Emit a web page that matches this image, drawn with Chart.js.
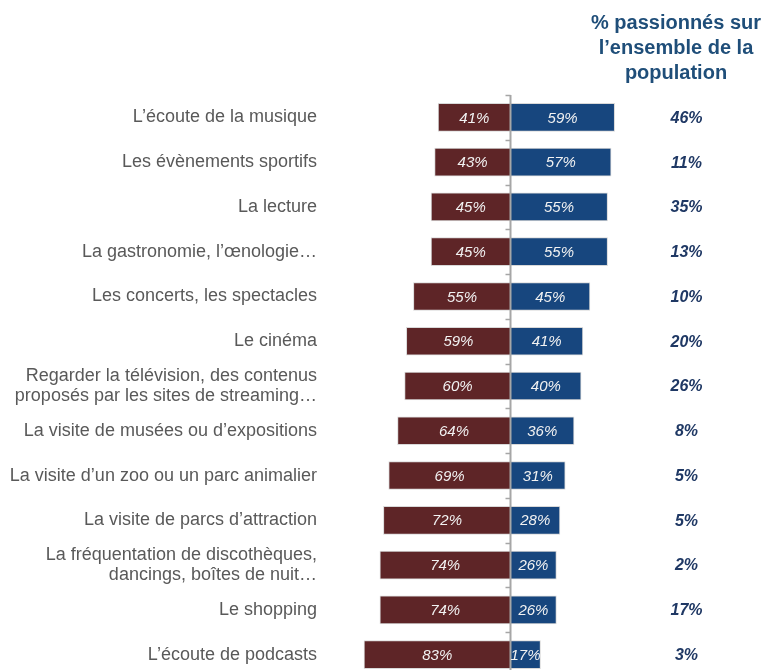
<!DOCTYPE html>
<html>
<head>
<meta charset="utf-8">
<script src="https://cdn.jsdelivr.net/npm/chart.js@4/dist/chart.umd.min.js"></script>
<style>
  html, body { margin: 0; padding: 0; background: #ffffff; overflow: hidden; }
  #wrap { position: relative; width: 763px; height: 677px; }
</style>
</head>
<body>
<div id="wrap"><canvas id="chart"></canvas></div>
<script>
// Activities (multi-line labels are arrays)
const categories = [
  "L’écoute de la musique",
  "Les évènements sportifs",
  "La lecture",
  "La gastronomie, l’œnologie…",
  "Les concerts, les spectacles",
  "Le cinéma",
  ["Regarder la télévision, des contenus", "proposés par les sites de streaming…"],
  "La visite de musées ou d’expositions",
  "La visite d’un zoo ou un parc animalier",
  "La visite de parcs d’attraction",
  ["La fréquentation de discothèques,", "dancings, boîtes de nuit…"],
  "Le shopping",
  "L’écoute de podcasts"
];
// Share of each side (left = maroon, right = blue), in %
const leftValues  = [41, 43, 45, 45, 55, 59, 60, 64, 69, 72, 74, 74, 83];
const rightValues = [59, 57, 55, 55, 45, 41, 40, 36, 31, 28, 26, 26, 17];
// % passionnés sur l'ensemble de la population
const populationValues = [46, 11, 35, 13, 10, 20, 26, 8, 5, 5, 2, 17, 3];
const headerLines = ["% passionnés sur", "l’ensemble de la", "population"];

const MAROON = "#5e2527";
const BLUE = "#17467e";
const AXIS = "#a6a6a6";

// Value labels inside bars, centre axis with ticks, right-hand column and header
const overlay = {
  id: "overlay",
  afterDatasetsDraw(chart) {
    const ctx = chart.ctx;
    const x = chart.scales.x;
    const y = chart.scales.y;
    const x0 = x.getPixelForValue(0);
    const band = y.getPixelForValue(1) - y.getPixelForValue(0);

    // centre axis
    ctx.save();
    ctx.strokeStyle = AXIS;
    ctx.lineWidth = 2;
    const top = y.getPixelForValue(0) - band / 2;
    ctx.beginPath();
    ctx.moveTo(x0, top);
    ctx.lineTo(x0, chart.height);
    ctx.stroke();
    ctx.lineWidth = 1.5;
    for (let i = 0; i < categories.length; i++) {
      const yb = Math.round(y.getPixelForValue(i) - band / 2) + 0.5;
      ctx.beginPath();
      ctx.moveTo(x0 - 5, yb);
      ctx.lineTo(x0, yb);
      ctx.stroke();
    }
    ctx.restore();

    // values inside the bars
    ctx.save();
    ctx.font = "italic 15px 'Liberation Sans', Arial, sans-serif";
    ctx.fillStyle = "#f2f2f2";
    ctx.textAlign = "center";
    ctx.textBaseline = "middle";
    chart.data.datasets.forEach((ds, di) => {
      const meta = chart.getDatasetMeta(di);
      const src = di === 0 ? leftValues : rightValues;
      meta.data.forEach((bar, i) => {
        const cx = (bar.x + bar.base) / 2;
        ctx.fillText(src[i] + "%", cx, bar.y + 1);
      });
    });
    ctx.restore();

    // right-hand column
    ctx.save();
    ctx.textAlign = "center";
    ctx.textBaseline = "middle";
    ctx.fillStyle = "#1f3864";
    ctx.font = "italic bold 16px 'Liberation Sans', Arial, sans-serif";
    populationValues.forEach((v, i) => {
      ctx.fillText(v + "%", 686.5, y.getPixelForValue(i) + 1);
    });
    ctx.fillStyle = "#1f4e79";
    ctx.font = "bold 20px 'Liberation Sans', Arial, sans-serif";
    headerLines.forEach((t, i) => {
      ctx.fillText(t, 676, 23 + i * 25);
    });
    ctx.restore();
  }
};

new Chart(document.getElementById("chart"), {
  type: "bar",
  data: {
    labels: categories,
    datasets: [
      {
        label: "gauche",
        data: leftValues.map(v => -v),
        backgroundColor: MAROON,
        borderColor: "#d9d9d9",
        borderWidth: 1,
        borderSkipped: "start",
        barThickness: 28
      },
      {
        label: "droite",
        data: rightValues,
        backgroundColor: BLUE,
        borderColor: "#d9d9d9",
        borderWidth: 1,
        borderSkipped: "start",
        barThickness: 28
      }
    ]
  },
  options: {
    indexAxis: "y",
    responsive: true,
    maintainAspectRatio: false,
    animation: false,
    layout: { padding: { top: 95, right: 76, bottom: 0, left: 0 } },
    plugins: {
      legend: { display: false },
      tooltip: { enabled: false }
    },
    scales: {
      x: {
        stacked: true,
        min: -100,
        max: 100,
        display: false
      },
      y: {
        stacked: true,
        grid: { display: false, drawTicks: false },
        border: { display: false },
        afterFit(scale) {
          scale.width = 334;
          scale.paddingTop = 0;
          scale.paddingBottom = 0;
        },
        ticks: {
          padding: 17,
          color: "#595959",
          font: { family: "'Liberation Sans', Arial, sans-serif", size: 18, lineHeight: 1.1 }
        }
      }
    }
  },
  plugins: [overlay]
});
</script>
</body>
</html>
